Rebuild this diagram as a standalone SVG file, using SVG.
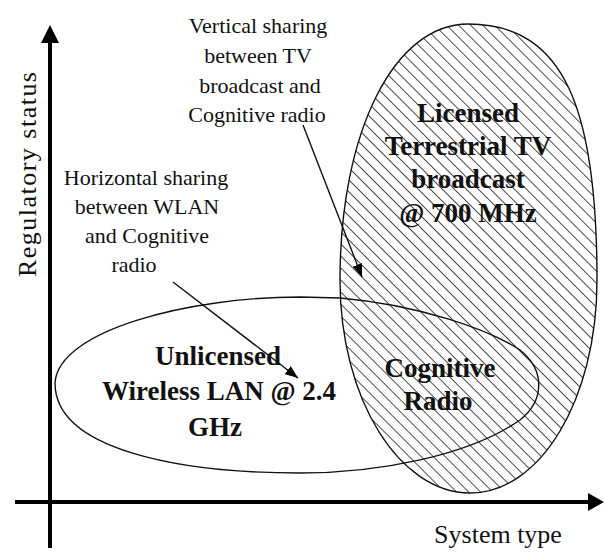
<svg xmlns="http://www.w3.org/2000/svg" width="605" height="554" viewBox="0 0 605 554">
  <style>
    .lbl { font-family: "Liberation Serif", "Times New Roman", serif; font-size: 22px; fill: #111; text-anchor: middle; }
    .bold { font-family: "Liberation Serif", "Times New Roman", serif; font-size: 27px; font-weight: bold; fill: #111; text-anchor: middle; }
    .axislbl { font-family: "Liberation Serif", "Times New Roman", serif; font-size: 26px; fill: #111; text-anchor: middle; }
    .axis { stroke: #000; stroke-width: 4; fill: none; }
    .conn { stroke: #111; stroke-width: 1.4; fill: none; }
    .shape { stroke: #111; stroke-width: 1.4; }
  </style>
  <defs>
    <pattern id="hatch" patternUnits="userSpaceOnUse" width="8.5" height="8.5" patternTransform="rotate(-45)">
      <line x1="0" y1="0" x2="0" y2="8.5" stroke="#000" stroke-width="1.4"/>
    </pattern>
    <marker id="arr" markerUnits="userSpaceOnUse" markerWidth="14" markerHeight="10" refX="13" refY="5" orient="auto">
      <path d="M0,0 L13,5 L0,10 Z" fill="#000"/>
    </marker>
  </defs>
  <rect width="605" height="554" fill="#fff"/>

  <g id="axes">
    <line class="axis" x1="50" y1="548" x2="50" y2="40"/>
    <polygon points="50,25 59,43 41,43" fill="#000"/>
    <line class="axis" x1="15" y1="502" x2="590" y2="502"/>
    <polygon points="604,502 588,493 588,511" fill="#000"/>
    <text class="axislbl" transform="translate(36,174.5) rotate(-90)" font-size="28" textLength="205" lengthAdjust="spacing">Regulatory status</text>
    <text class="axislbl" x="498" y="543">System type</text>
  </g>

  <g id="node-licensed-tv">
    <path class="shape" fill="url(#hatch)" d="M340,280 C340,130 395,24 468,24 C565,24 597,110 597,280 C597,400 540,493 470,493 C400,493 340,400 340,280 Z"/>
    <text class="bold" x="468" y="122">Licensed</text>
    <text class="bold" x="468" y="155">Terrestrial TV</text>
    <text class="bold" x="468" y="188">broadcast</text>
    <text class="bold" x="468" y="222">@ 700 MHz</text>
  </g>

  <g id="node-wlan">
    <path class="shape" fill="none" d="M55,383 C58,330 190,297 300,297 L340,298 C420,305 490,330 520,350 C545,370 545,400 520,420 C470,455 380,473 300,473 C180,473 55,450 55,383 Z"/>
    <text class="bold" x="218" y="365">Unlicensed</text>
    <text class="bold" x="219" y="400">Wireless LAN @ 2.4</text>
    <text class="bold" x="215" y="436">GHz</text>
  </g>

  <g id="node-cognitive">
    <text class="bold" x="440" y="377">Cognitive</text>
    <text class="bold" x="438" y="410">Radio</text>
  </g>

  <g id="label-vertical">
    <text class="lbl" x="258" y="33">Vertical sharing</text>
    <text class="lbl" x="258" y="63">between TV</text>
    <text class="lbl" x="260" y="93">broadcast and</text>
    <text class="lbl" x="257" y="122">Cognitive radio</text>
  </g>

  <g id="label-horizontal">
    <text class="lbl" x="146" y="185">Horizontal sharing</text>
    <text class="lbl" x="147" y="214">between WLAN</text>
    <text class="lbl" x="147" y="243">and Cognitive</text>
    <text class="lbl" x="134" y="272">radio</text>
  </g>

  <g id="connectors">
    <line class="conn" x1="303" y1="125" x2="362" y2="277" marker-end="url(#arr)"/>
    <line class="conn" x1="173" y1="282" x2="298" y2="378" marker-end="url(#arr)"/>
  </g>
</svg>
